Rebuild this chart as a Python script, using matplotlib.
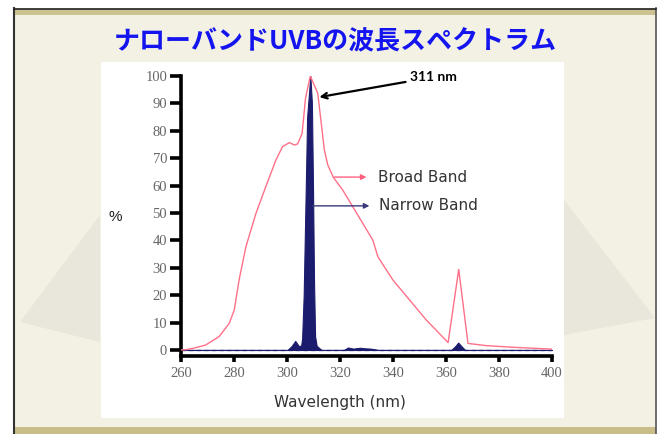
import matplotlib
matplotlib.use("Agg")
import matplotlib.pyplot as plt
from matplotlib.patches import Rectangle, Polygon

# 広帯域UVBスペクトル (Broad Band)
broad_x = [260, 261.8, 265, 269.3, 274.4, 278.2, 280.1, 281.9, 284.5, 288.3, 292.0,
           295.8, 298.3, 300.9, 302.8, 304.0, 305.7, 307.0, 308.8, 311.6, 314.1, 315.4,
           317.5, 321, 328.6, 332.4, 334.3, 340, 346.3, 352.6, 360.8, 364.8, 368.3,
           375, 385, 400]
broad_y = [0, 0.1, 0.7, 1.8, 4.9, 9.7, 14.6, 25.5, 37.7, 49.9, 59.6,
           69.3, 74.2, 75.7, 74.8, 75.2, 79, 92, 100, 93.7, 73, 67.5,
           63, 58.4, 46.2, 40.1, 34, 25.5, 18.2, 10.9, 2.7, 29.4, 2.4,
           1.6, 1.0, 0.3]

# ナローバンドUVBスペクトル (Narrow Band)
narrow_x = [260, 300.2, 301.8, 303.1, 304.4, 305.3, 305.7, 306.3, 307.0, 307.6, 308.8,
            309.4, 309.8, 310.2, 310.6, 311.2, 313.0, 321.5, 323, 325, 327.5, 329.5,
            331.5, 334.5, 362.0, 363.5, 364.6, 365.8, 367.2, 400]
narrow_y = [0, 0, 1.5, 3.3, 1.5, 1.5, 4, 20, 55, 85, 100,
            90, 60, 25, 5, 1.5, 0, 0, 0.9, 0.5, 0.8, 0.6,
            0.5, 0, 0, 1.4, 2.7, 1.4, 0, 0]

xticks = [260, 280, 300, 320, 340, 360, 380, 400]
yticks = [0, 10, 20, 30, 40, 50, 60, 70, 80, 90, 100]

title = "ナローバンドUVBの波長スペクトラム"

W, H = 662, 434
fig = plt.figure(figsize=(W / 100, H / 100), dpi=100)
fig.patch.set_facecolor("white")

# スライド背景 (ピクセル座標)
bg = fig.add_axes([0, 0, 1, 1], zorder=0)
bg.set_xlim(0, W)
bg.set_ylim(H, 0)
bg.axis("off")
bg.add_patch(Rectangle((14, 8), 642, 430, facecolor="#f2f1e3", edgecolor="none"))
bg.add_patch(Polygon([(100, 215), (20, 322), (100, 342)], facecolor="#e9e7dc", edgecolor="none"))
bg.add_patch(Polygon([(564, 200), (655, 318), (564, 335)], facecolor="#e9e7dc", edgecolor="none"))
bg.add_patch(Rectangle((14, 9), 642, 6, facecolor="#cdc392", edgecolor="none"))
bg.add_patch(Rectangle((14, 427), 642, 8, facecolor="#c9be8a", edgecolor="none"))
bg.plot([14, 14], [8, 434], color="#333333", lw=1.5)
bg.plot([656, 656], [8, 434], color="#555555", lw=1.2)
bg.plot([14, 656], [8.5, 8.5], color="#222222", lw=1.2)
bg.add_patch(Rectangle((101, 62), 463, 356, facecolor="white", edgecolor="none"))

fig.text(335 / W, 1 - 42 / H, title, ha="center", va="center", fontsize=18.7,
         color="#1414f0", fontweight="bold", family=["Noto Sans CJK JP", "DejaVu Sans"])

# グラフ本体
ax = fig.add_axes([181 / W, 1 - 356 / H, (552 - 181) / W, (356 - 76) / H], zorder=2)
ax.patch.set_alpha(0)
ax.set_xlim(260, 400)
ax.set_ylim(-2.2, 100)

ax.axhline(0, color="#6e6ea8", lw=1, ls=(0, (3, 2.5)), zorder=1)
ax.fill_between(narrow_x, narrow_y, color="#1c1c6e", lw=0.8, edgecolor="#1c1c6e", zorder=2)
ax.plot(broad_x, broad_y, color="#ff7088", lw=1.0, zorder=3)

for s in ["top", "right"]:
    ax.spines[s].set_visible(False)
for s in ["left", "bottom"]:
    ax.spines[s].set_linewidth(2.6)
    ax.spines[s].set_color("black")

ax.set_xticks(xticks)
ax.set_yticks(yticks)
ax.tick_params(axis="y", length=8, width=2.6, pad=2, labelsize=10.5, labelcolor="#666666")
ax.tick_params(axis="x", length=4, width=2.6, pad=4, labelsize=10.5, labelcolor="#666666")
for lab in ax.get_xticklabels() + ax.get_yticklabels():
    lab.set_family("Liberation Serif")

fig.text(115 / W, 1 - 217 / H, "%", ha="center", va="center", fontsize=11,
         family="Liberation Sans", color="#222222")
fig.text(340 / W, 1 - 403 / H, "Wavelength (nm)", ha="center", va="center",
         fontsize=11, family="DejaVu Sans", color="#333333")

# 注釈
ax.annotate("311 nm", xy=(312.2, 92.3), xytext=(346.3, 99.6), fontsize=10,
            fontweight="bold", family="Lato", va="center", ha="left", annotation_clip=False,
            arrowprops=dict(arrowstyle="->", color="black", lw=1.6,
                            shrinkA=1, shrinkB=0))
ax.annotate("", xy=(330.0, 63.1), xytext=(317.9, 63.1),
            arrowprops=dict(arrowstyle="-|>", color="#ff6080", lw=1, mutation_scale=8,
                            shrinkA=0, shrinkB=0))
ax.text(334.2, 63.1, "Broad Band", fontsize=11, family="DejaVu Sans", color="#333333",
        va="center", ha="left")
ax.annotate("", xy=(331.1, 52.6), xytext=(309.6, 52.6),
            arrowprops=dict(arrowstyle="-|>", color="#3a3a7a", lw=1, mutation_scale=8,
                            shrinkA=0, shrinkB=0))
ax.text(334.9, 52.6, "Narrow Band", fontsize=11, family="DejaVu Sans", color="#333333",
        va="center", ha="left")

fig.savefig("out.png", dpi=100)
